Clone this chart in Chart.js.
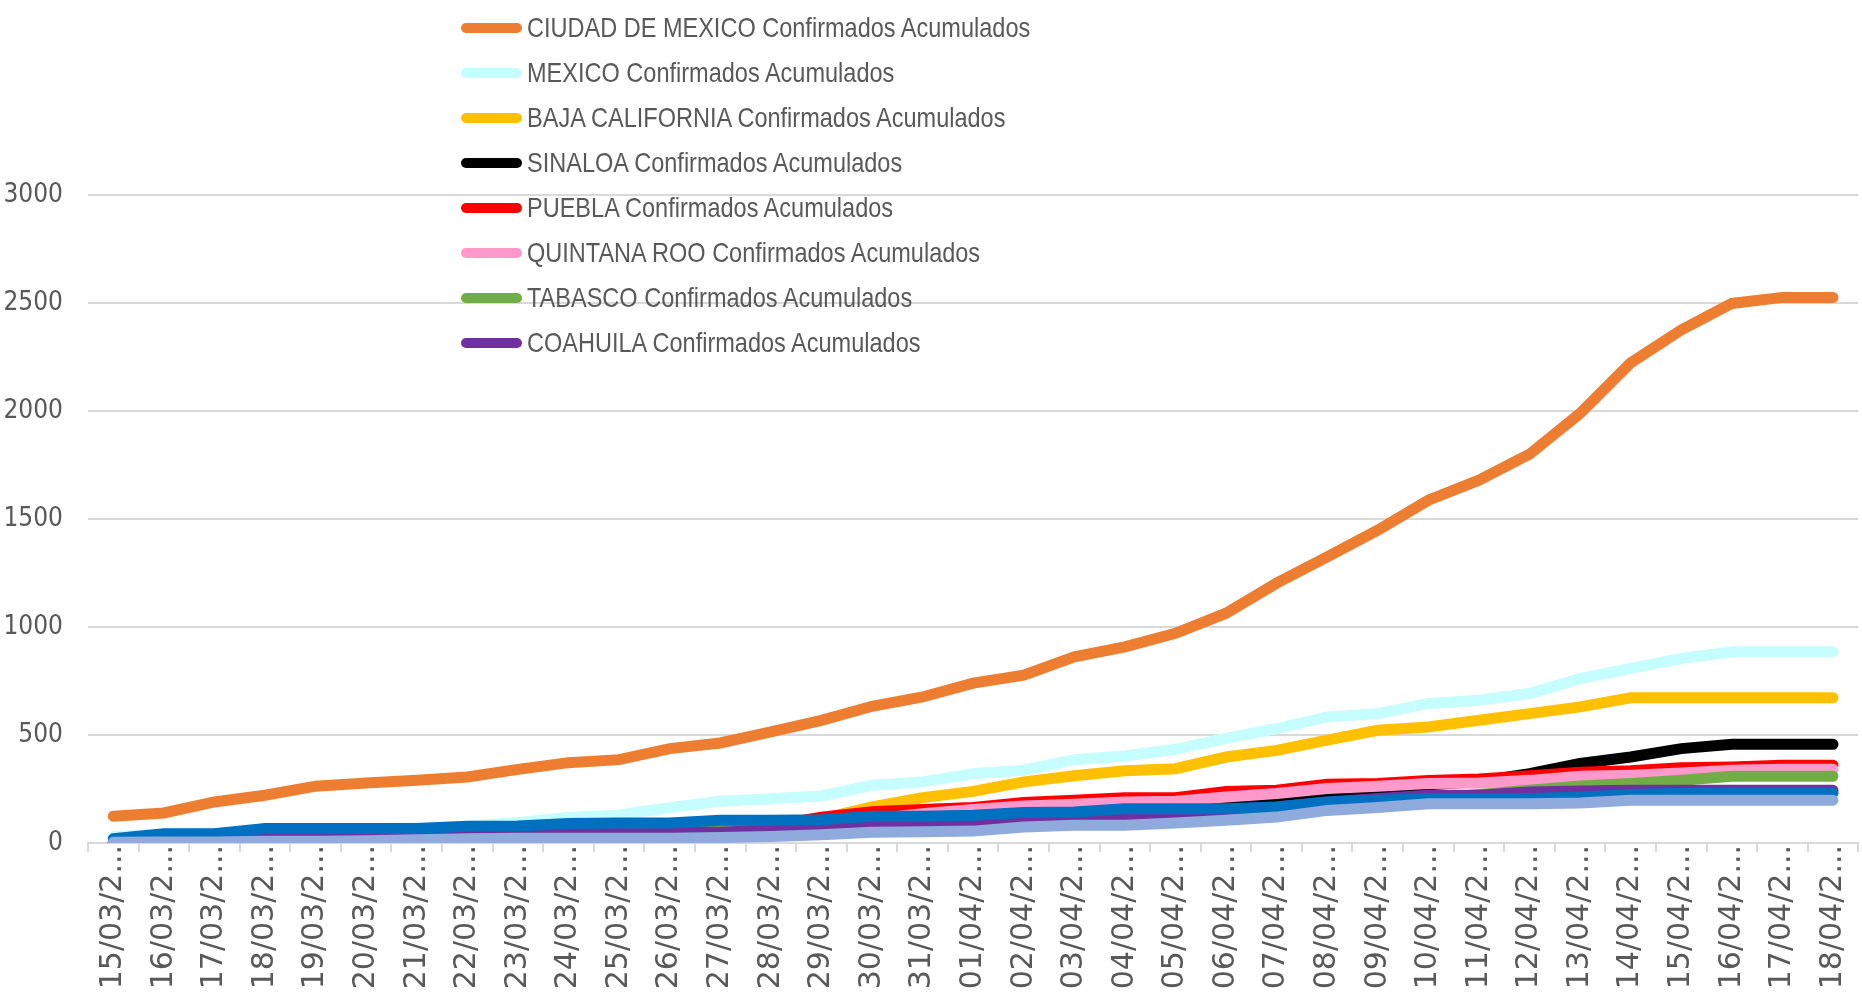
<!DOCTYPE html>
<html>
<head>
<meta charset="utf-8">
<script src="https://cdn.jsdelivr.net/npm/chart.js@4.4.1/dist/chart.umd.min.js"></script>
<style>
  body { margin: 0; background: #fff; }
  #wrap { position: relative; width: 1862px; height: 1000px; }
  #leyenda { position: absolute; left: 461px; top: 5px; pointer-events: none; }
  .item { height: 45.1px; display: flex; align-items: center; }
  .marca { width: 61px; height: 10px; border-radius: 5px; margin-right: 5px; flex: none; }
  .texto { font-family: 'Liberation Sans', Arial, sans-serif; font-size: 28px; color: #595959; white-space: nowrap;
           display: inline-block; transform: scaleX(0.84); transform-origin: left center; }
</style>
</head>
<body>
<div id="wrap">
  <canvas id="grafica" width="1862" height="1000"></canvas>
  <div id="leyenda"></div>
</div>
<script>
// Fechas (15/03/2020 a 18/04/2020)
const fechas = ['15/03/2020','16/03/2020','17/03/2020','18/03/2020','19/03/2020','20/03/2020','21/03/2020',
  '22/03/2020','23/03/2020','24/03/2020','25/03/2020','26/03/2020','27/03/2020','28/03/2020','29/03/2020',
  '30/03/2020','31/03/2020','01/04/2020','02/04/2020','03/04/2020','04/04/2020','05/04/2020','06/04/2020',
  '07/04/2020','08/04/2020','09/04/2020','10/04/2020','11/04/2020','12/04/2020','13/04/2020','14/04/2020',
  '15/04/2020','16/04/2020','17/04/2020','18/04/2020'];

// Confirmados acumulados por estado
const cdmx = [124,139,190,221,263,278,290,306,341,372,386,437,463,514,568,633,676,740,777,862,908,971,1064,1203,1325,1448,1587,1680,1800,1989,2223,2375,2498,2526,2526];
const mexico = [30,40,45,55,60,65,70,78,95,118,130,164,193,205,218,267,283,321,337,386,403,434,484,530,584,599,646,661,692,761,808,854,885,885,885];
const bajaCalifornia = [2,2,3,4,5,6,8,10,14,20,25,32,40,60,112,167,210,239,283,311,334,344,398,429,476,522,537,568,599,630,672,672,672,672,672];
const sinaloa = [0,0,1,2,3,5,8,10,13,18,22,28,35,45,55,65,80,95,110,125,140,150,165,190,221,232,270,285,321,368,398,437,457,457,457];
const puebla = [1,2,3,5,6,8,10,15,20,25,30,40,55,80,120,145,155,164,187,198,209,210,239,244,272,276,289,296,311,327,334,348,352,360,360];
const quintanaRoo = [2,3,4,5,7,10,20,45,55,60,62,62,70,75,78,110,135,155,171,179,190,193,213,229,252,263,275,278,290,309,314,324,337,342,342];
const tabasco = [0,1,2,3,4,5,7,10,15,25,40,58,62,70,76,78,78,80,93,105,113,118,128,140,160,185,205,225,244,264,275,290,309,309,309];
const coahuila = [5,8,10,20,20,20,25,30,40,45,48,50,50,60,72,87,87,97,105,113,120,136,155,167,190,206,221,221,236,241,244,244,244,244,244];
const azul = [20,43,43,67,67,67,67,77,79,90,93,93,105,105,108,124,124,128,141,144,159,159,159,167,190,198,206,206,206,213,225,230,232,232,232];
const azulClaro = [3,5,5,8,8,10,15,20,22,22,22,22,25,30,38,50,52,55,74,82,82,93,105,120,151,164,182,182,182,185,198,198,198,198,198];

const nombres = ['CIUDAD DE MEXICO','MEXICO','BAJA CALIFORNIA','SINALOA','PUEBLA','QUINTANA ROO','TABASCO','COAHUILA','JALISCO','NUEVO LEON'];
const series = [cdmx, mexico, bajaCalifornia, sinaloa, puebla, quintanaRoo, tabasco, coahuila, azul, azulClaro];
const colores = ['#ed7d31','#c6fdfe','#ffc000','#000000','#ff0000','#ff99cc','#70ad47','#7030a0','#0070c0','#8faadc'];
const enLeyenda = 8;

const datasets = series.map((d, i) => ({
    label: nombres[i] + ' Confirmados Acumulados',
    data: d,
    borderColor: colores[i],
    backgroundColor: colores[i],
    borderWidth: 11,
    borderCapStyle: 'round',
    pointRadius: 0,
    tension: 0,
    fill: false,
    order: series.length - i   // las últimas series quedan encima, como en Excel
}));

const ctx = document.getElementById('grafica').getContext('2d');
const grafica = new Chart(ctx, {
    type: 'line',
    data: { labels: fechas, datasets: datasets },
    options: {
        responsive: false,
        animation: false,
        devicePixelRatio: 1,
        layout: { padding: { top: 195, right: -5, left: 0, bottom: 0 } },
        plugins: {
            legend: { display: false },
            tooltip: { enabled: false }
        },
        scales: {
            x: {
                offset: true,
                grid: { display: true, drawOnChartArea: false, drawTicks: true, tickLength: 9, color: '#d9d9d9', lineWidth: 2, offset: true },
                border: { display: true, color: '#d9d9d9', width: 2 },
                ticks: {
                    autoSkip: false,
                    minRotation: 90,
                    maxRotation: 90,
                    padding: -7,
                    color: '#595959',
                    font: { family: 'DejaVu Sans', size: 30 },
                    callback: function (v, i) { return fechas[i].slice(0, 7) + '...'; }
                },
                afterFit: function (scale) { scale.height = 157; }
            },
            y: {
                min: 0,
                max: 3000,
                grid: { color: '#d9d9d9', lineWidth: 2, drawTicks: false },
                border: { display: false },
                ticks: {
                    stepSize: 500,
                    padding: 25,
                    color: '#595959',
                    font: { family: "'DejaVu Sans Condensed', 'Liberation Sans'", size: 26 },
                    callback: function (v) { return String(v); }
                },
                afterFit: function (scale) { scale.width = 88; }
            }
        }
    }
});

// Leyenda vertical sobre el área de trazado
const leyenda = document.getElementById('leyenda');
datasets.slice(0, enLeyenda).forEach(ds => {
    const fila = document.createElement('div');
    fila.className = 'item';
    const marca = document.createElement('div');
    marca.className = 'marca';
    marca.style.background = ds.borderColor;
    const texto = document.createElement('span');
    texto.className = 'texto';
    texto.textContent = ds.label;
    fila.appendChild(marca);
    fila.appendChild(texto);
    leyenda.appendChild(fila);
});
</script>
</body>
</html>
